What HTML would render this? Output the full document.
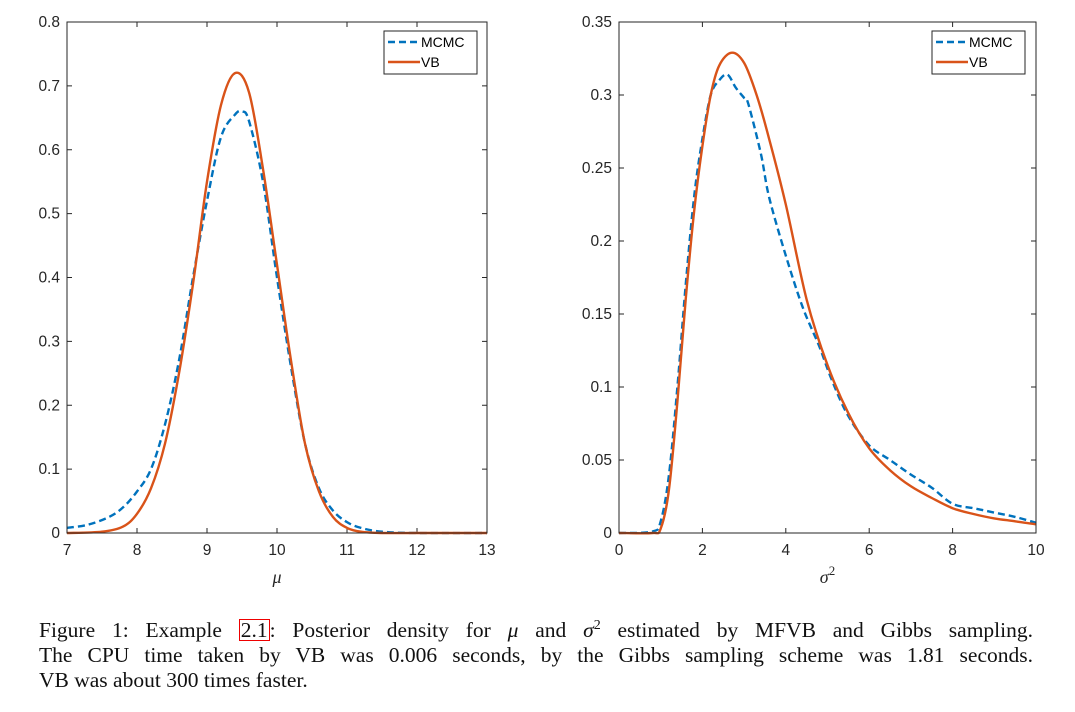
<!DOCTYPE html>
<html><head><meta charset="utf-8">
<style>
body{margin:0;background:#fff;width:1075px;height:712px;overflow:hidden;position:relative;}
svg{position:absolute;left:0;top:0;}
.cap{position:absolute;left:39px;width:994px;font-family:"Liberation Serif",serif;font-size:21.5px;line-height:25px;color:#111;white-space:nowrap;}
.j{text-align:justify;text-align-last:justify;}
.ref{border:1.5px solid #e00;padding:0 1px;line-height:20px;display:inline-block;}
sup{font-size:14px;line-height:0;vertical-align:8px;}
</style></head><body>
<svg id="chart" width="1075" height="712"></svg>
<div class="cap j" style="top:618px">Figure 1: Example <span class="ref">2.1</span>: Posterior density for <i>μ</i> and <i>σ</i><sup>2</sup> estimated by MFVB and Gibbs sampling.</div>
<div class="cap j" style="top:643px">The CPU time taken by VB was 0.006 seconds, by the Gibbs sampling scheme was 1.81 seconds.</div>
<div class="cap" style="top:668px">VB was about 300 times faster.</div>
<script>
const muX = [7,7.5,7.8,8,8.2,8.4,8.6,8.8,9,9.2,9.4,9.6,9.8,10,10.2,10.4,10.6,10.8,11,11.2,11.5,12,13];
const muVB = [0,0.002,0.01,0.03,0.07,0.14,0.25,0.39,0.55,0.67,0.72,0.69,0.57,0.42,0.27,0.14,0.065,0.025,0.008,0.002,0,0,0];
const muMcmcX = [7,7.3,7.6,7.8,8,8.2,8.4,8.6,8.8,9,9.2,9.4,9.5,9.6,9.8,10,10.2,10.4,10.6,10.8,11,11.2,11.5,12,13];
const muMcmc = [0.008,0.013,0.025,0.04,0.065,0.1,0.17,0.27,0.4,0.52,0.62,0.655,0.66,0.645,0.55,0.4,0.26,0.14,0.07,0.035,0.017,0.008,0.002,0,0];
const sigX = [0,0.8,1,1.2,1.4,1.6,1.8,2,2.2,2.4,2.7,3,3.3,3.6,4,4.5,5,5.5,6,6.5,7,7.5,8,8.5,9,9.5,10];
const sigVB = [0,0,0.003,0.03,0.09,0.16,0.22,0.265,0.3,0.32,0.329,0.322,0.3,0.27,0.225,0.16,0.115,0.082,0.058,0.043,0.032,0.024,0.017,0.013,0.01,0.008,0.006];
const sigMcmcX = [0,0.8,1,1.2,1.4,1.6,1.8,2,2.2,2.4,2.6,2.8,3,3.1,3.4,3.6,4,4.4,4.8,5.1,5.5,6,6.5,7,7.5,8,8.5,9,9.5,10];
const sigMcmc = [0,0.001,0.008,0.04,0.1,0.17,0.23,0.27,0.3,0.31,0.314,0.305,0.298,0.294,0.26,0.23,0.19,0.155,0.128,0.105,0.08,0.06,0.05,0.04,0.031,0.02,0.017,0.014,0.011,0.007];
const muXTicks = [7,8,9,10,11,12,13];
const muYTicks = [0,0.1,0.2,0.3,0.4,0.5,0.6,0.7,0.8];
const sigXTicks = [0,2,4,6,8,10];
const sigYTicks = [0,0.05,0.1,0.15,0.2,0.25,0.3,0.35];
const seriesNames = ["MCMC","VB"];

const NS="http://www.w3.org/2000/svg";
const svg=document.getElementById('chart');
function el(t,a,p){const e=document.createElementNS(NS,t);for(const k in a)e.setAttribute(k,a[k]);(p||svg).appendChild(e);return e;}
function pathD(xs,ys,sx,sy){
  const P=xs.map((x,i)=>[sx(x),sy(ys[i])]);
  let d='M'+P[0][0].toFixed(1)+','+P[0][1].toFixed(1);
  for(let i=0;i<P.length-1;i++){
    const p0=P[Math.max(0,i-1)],p1=P[i],p2=P[i+1],p3=P[Math.min(P.length-1,i+2)];
    const c1=[p1[0]+(p2[0]-p0[0])/6,p1[1]+(p2[1]-p0[1])/6];
    const c2=[p2[0]-(p3[0]-p1[0])/6,p2[1]-(p3[1]-p1[1])/6];
    d+=`C${c1[0].toFixed(1)},${c1[1].toFixed(1)} ${c2[0].toFixed(1)},${c2[1].toFixed(1)} ${p2[0].toFixed(1)},${p2[1].toFixed(1)}`;
  }
  return d;
}
function panel(o){
  const {x0,x1,y0,y1,xmin,xmax,ymax,xt,yt,name}=o;
  const sx=v=>x0+(v-xmin)/(xmax-xmin)*(x1-x0);
  const sy=v=>y1-v/ymax*(y1-y0);
  const g=el('g',{});
  
  
  xt.forEach(v=>{
    const X=sx(v);
    el('line',{x1:X,x2:X,y1:y1,y2:y1-5,stroke:'#262626'},g);
    el('line',{x1:X,x2:X,y1:y0,y2:y0+5,stroke:'#262626'},g);
    const t=el('text',{x:X,y:y1+22,'text-anchor':'middle','font-family':'Liberation Sans, sans-serif','font-size':'15.5',fill:'#262626'},g);
    t.textContent=v;
    
    
  });
  yt.forEach(v=>{
    const Y=sy(v);
    el('line',{x1:x0,x2:x0+5,y1:Y,y2:Y,stroke:'#262626'},g);
    el('line',{x1:x1,x2:x1-5,y1:Y,y2:Y,stroke:'#262626'},g);
    const t=el('text',{x:x0-7,y:Y+5,'text-anchor':'end','font-family':'Liberation Sans, sans-serif','font-size':'15.5',fill:'#262626'},g);
    t.textContent=v;
    
    
  });
  const m=el('path',{d:pathD(o.mx,o.my,sx,sy),fill:'none',stroke:'#0072BD','stroke-width':'2.4','stroke-dasharray':'7,4'},g);
  
  
  const v=el('path',{d:pathD(o.vx,o.vy,sx,sy),fill:'none',stroke:'#D95319','stroke-width':'2.4'},g);
  
  
  el('rect',{x:x0,y:y0,width:x1-x0,height:y1-y0,fill:'none',stroke:'#262626','stroke-width':'1'},g);
  const L=o.leg;
  const lg=el('g',{},g);
  
  
  el('rect',{x:L[0],y:L[1],width:L[2],height:43,fill:'#fff',stroke:'#262626','stroke-width':'1'},lg);
  const cols=['#0072BD','#D95319'];
  seriesNames.forEach((s,i)=>{
    const yy=L[1]+11+i*20;
    el('line',{x1:L[0]+4,x2:L[0]+36,y1:yy,y2:yy,stroke:cols[i],'stroke-width':'2.4','stroke-dasharray':i==0?'7,4':'none'},lg);
    const t=el('text',{x:L[0]+37,y:yy+5,'font-family':'Liberation Sans, sans-serif','font-size':'14',fill:'#000'},lg);
    t.textContent=s;
    
    
  });
  const xl=el('text',{x:(x0+x1)/2,y:y1+50,'text-anchor':'middle','font-family':'Liberation Serif, serif','font-style':'italic','font-size':'18',fill:'#262626'},g);
  xl.innerHTML=o.xlab;
  
  
}
panel({name:'mu',x0:67,x1:487,y0:22,y1:533,xmin:7,xmax:13,ymax:0.8,xt:muXTicks,yt:muYTicks,mx:muMcmcX,my:muMcmc,vx:muX,vy:muVB,leg:[384,31,93],xlab:'μ'});
panel({name:'sigma',x0:619,x1:1036,y0:22,y1:533,xmin:0,xmax:10,ymax:0.35,xt:sigXTicks,yt:sigYTicks,mx:sigMcmcX,my:sigMcmc,vx:sigX,vy:sigVB,leg:[932,31,93],xlab:'σ<tspan dy="-8" font-size="13" font-style="normal">2</tspan>'});
</script>
</body></html>
